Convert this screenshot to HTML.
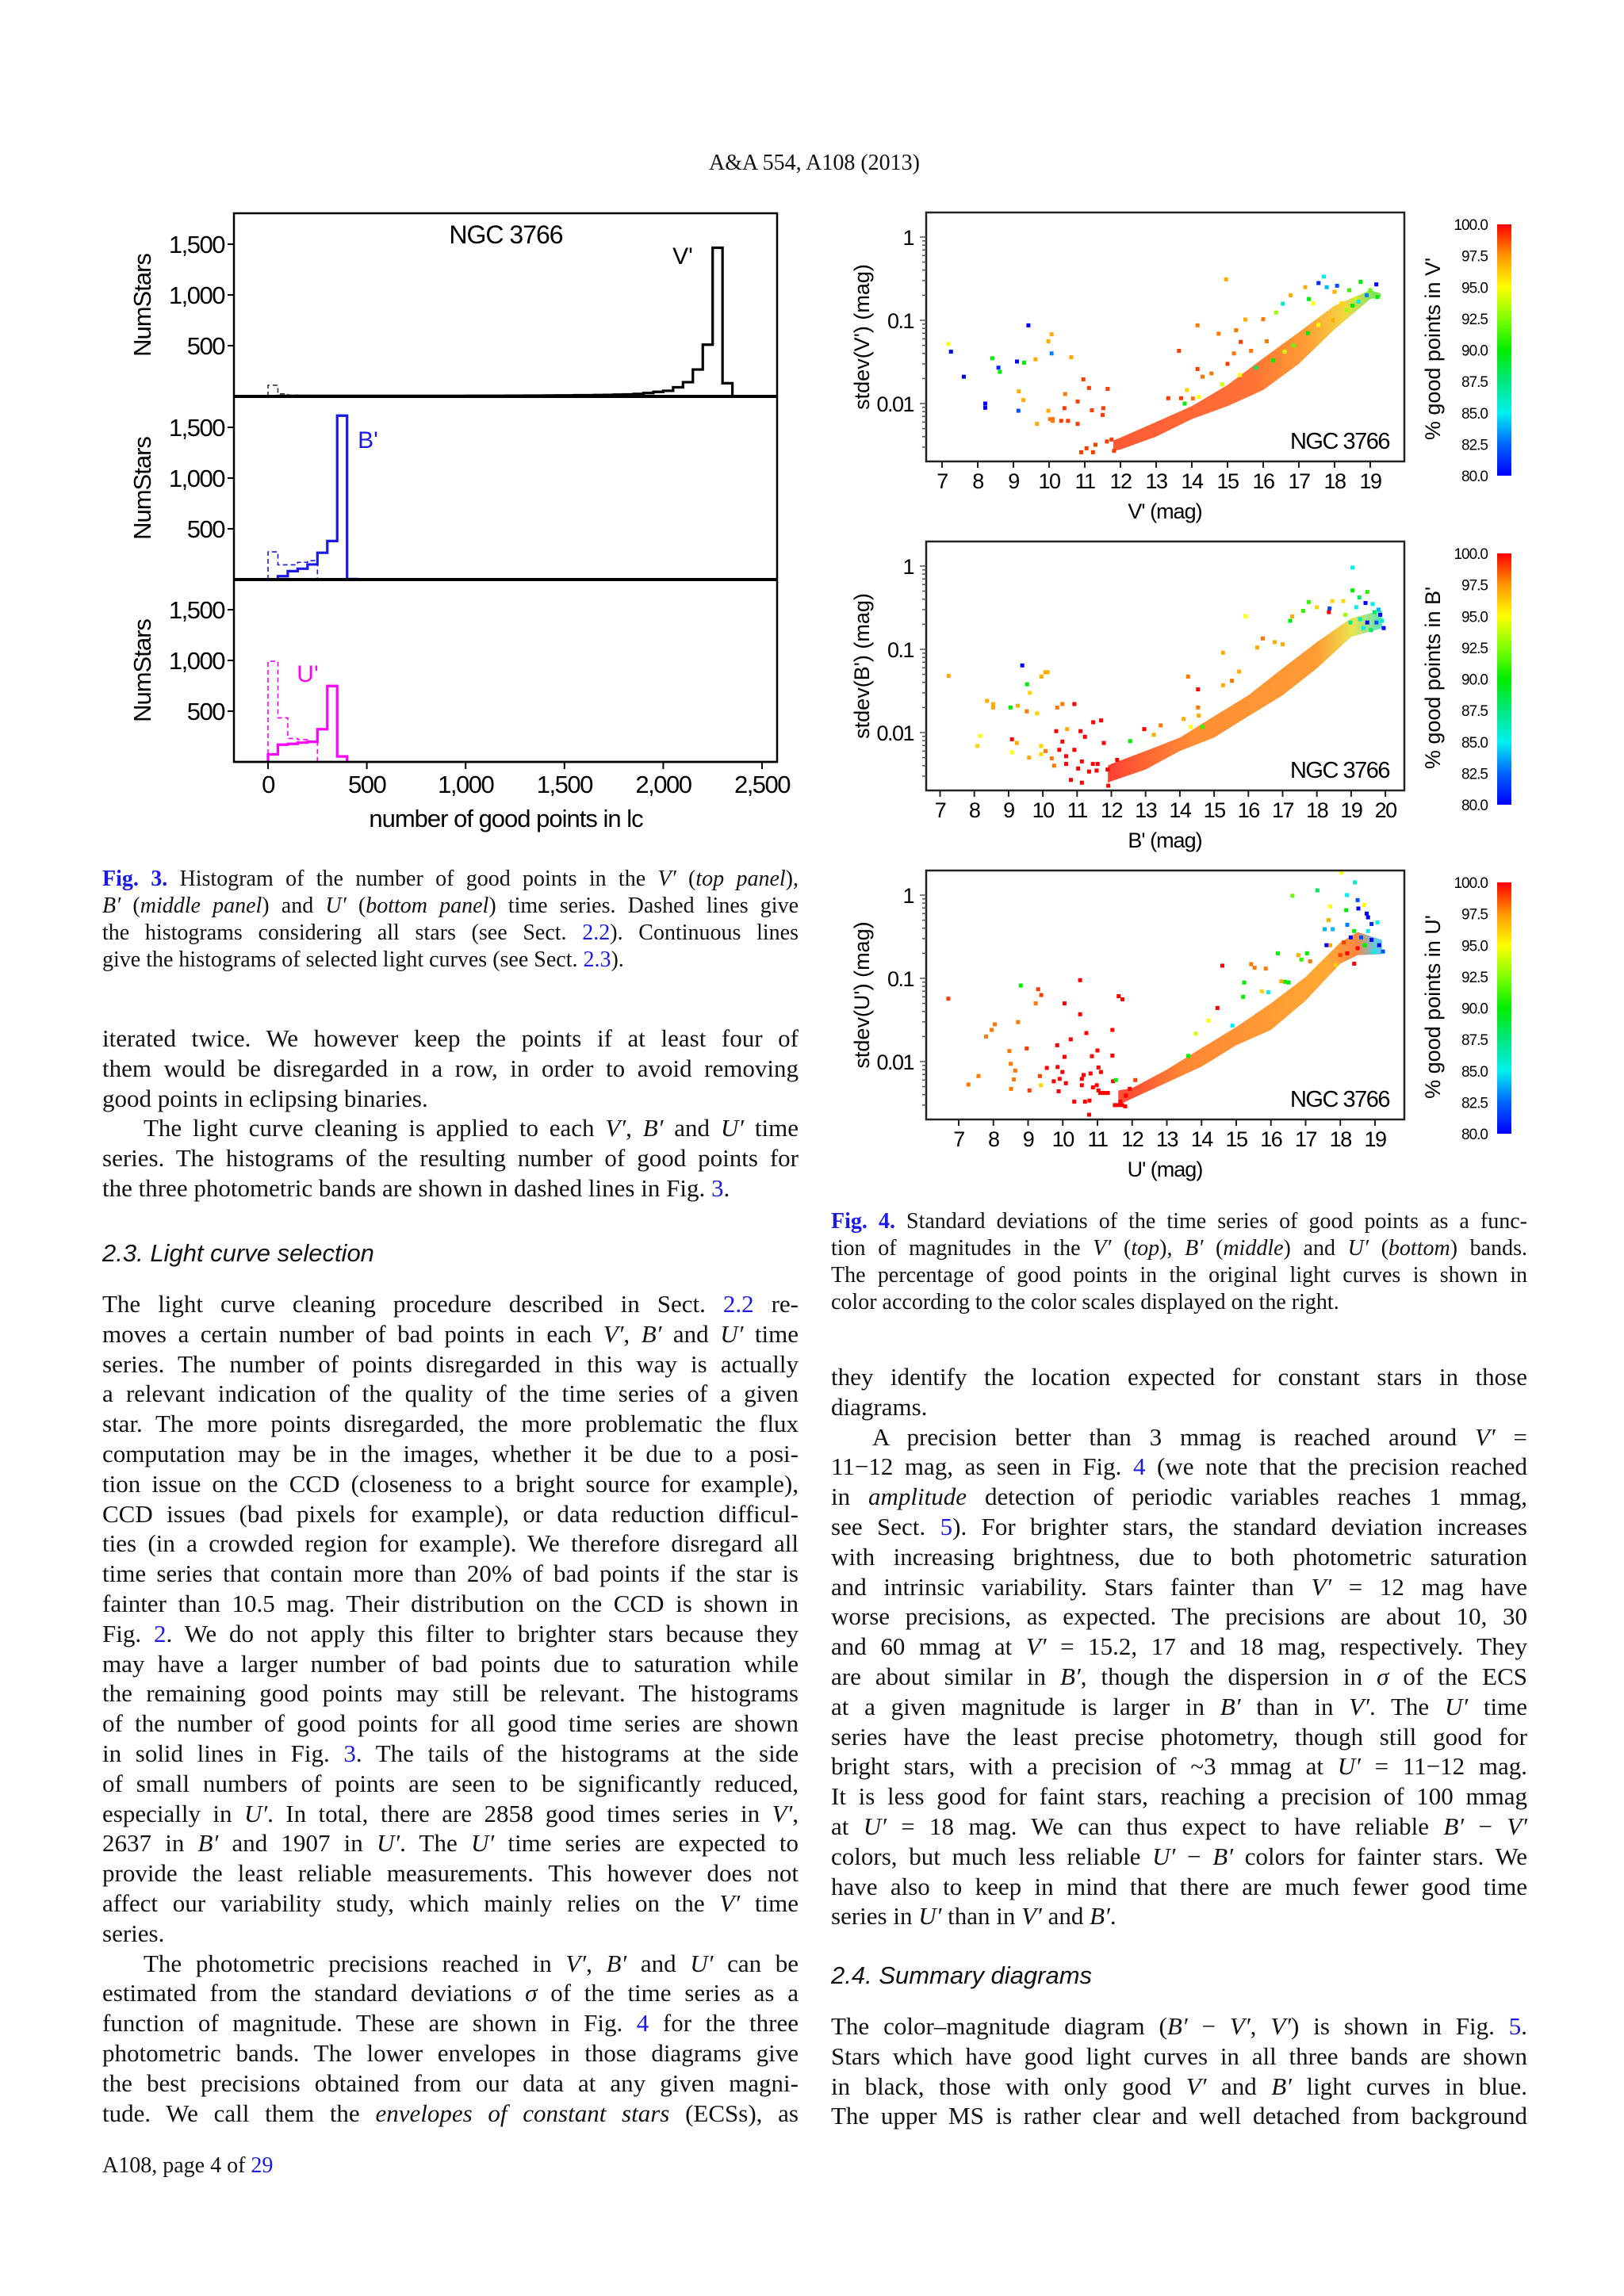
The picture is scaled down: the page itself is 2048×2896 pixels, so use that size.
<!DOCTYPE html>
<html><head><meta charset="utf-8">
<style>
body{margin:0;background:#fff;}
#page{position:relative;width:2048px;height:2896px;background:#fff;overflow:hidden;font-family:"Liberation Serif",serif;color:#111;}
.blk{position:absolute;font-size:31px;text-align:justify;}
.blk div{height:37.8px;line-height:37.8px;white-space:nowrap;text-align-last:justify;text-align:justify;}
.blk div.l{text-align-last:left;}
.blk div.in{padding-left:52px;}
.cap{position:absolute;font-size:28px;}
.cap div{height:34px;line-height:34px;white-space:nowrap;text-align:justify;text-align-last:justify;}
.cap div.l{text-align-last:left;}
.b{color:#1a1ae6;}
.hd{position:absolute;font-family:"Liberation Sans",sans-serif;font-style:italic;font-size:31px;}
svg text{font-family:"Liberation Sans",sans-serif;}
</style></head>
<body><div id="page">

<div style="position:absolute;left:0;width:2054px;top:190px;text-align:center;font-size:28px;">A&amp;A 554, A108 (2013)</div>

<svg id="chart" width="2048" height="2896" style="position:absolute;left:0;top:0">
<defs>
<linearGradient id="gV" gradientUnits="userSpaceOnUse" x1="1393" y1="0" x2="1731" y2="0">
<stop offset="0" stop-color="#ff3a12"/><stop offset="0.55" stop-color="#ff5a12"/><stop offset="0.75" stop-color="#ff8c10"/><stop offset="0.9" stop-color="#f0d020"/><stop offset="1" stop-color="#70e040"/></linearGradient>
<linearGradient id="gB" gradientUnits="userSpaceOnUse" x1="1401" y1="0" x2="1747" y2="0">
<stop offset="0" stop-color="#ff2010"/><stop offset="0.12" stop-color="#ff4a10"/><stop offset="0.3" stop-color="#ff7a10"/><stop offset="0.75" stop-color="#ff8a10"/><stop offset="0.88" stop-color="#e8e030"/><stop offset="1" stop-color="#20e0c0"/></linearGradient>
<linearGradient id="gU" gradientUnits="userSpaceOnUse" x1="1428" y1="0" x2="1735" y2="0">
<stop offset="0" stop-color="#ff3010"/><stop offset="0.2" stop-color="#ff7010"/><stop offset="0.8" stop-color="#ff9a10"/><stop offset="0.92" stop-color="#ff7020"/><stop offset="1" stop-color="#40c0e0"/></linearGradient>
<linearGradient id="cbar" x1="0" y1="1" x2="0" y2="0">
<stop offset="0" stop-color="#0000ff"/><stop offset="0.125" stop-color="#0064ff"/><stop offset="0.25" stop-color="#00f0f0"/><stop offset="0.375" stop-color="#00e880"/><stop offset="0.5" stop-color="#00ee00"/><stop offset="0.625" stop-color="#80ff00"/><stop offset="0.75" stop-color="#ffff00"/><stop offset="0.875" stop-color="#ff9600"/><stop offset="1" stop-color="#ff0000"/></linearGradient>
</defs>
<g id="hist"></g>
<g id="scat"></g>
</svg>

<div class="cap" style="left:129px;top:1092px;width:878px;">
<div><b class="b">Fig. 3.</b> Histogram of the number of good points in the <i>V′</i> (<i>top panel</i>),</div>
<div><i>B′</i> (<i>middle panel</i>) and <i>U′</i> (<i>bottom panel</i>) time series. Dashed lines give</div>
<div>the histograms considering all stars (see Sect. <span class="b">2.2</span>). Continuous lines</div>
<div class="l">give the histograms of selected light curves (see Sect. <span class="b">2.3</span>).</div>
</div>

<div class="cap" style="left:1048px;top:1524px;width:878px;">
<div><b class="b">Fig. 4.</b> Standard deviations of the time series of good points as a func-</div>
<div>tion of magnitudes in the <i>V′</i> (<i>top</i>), <i>B′</i> (<i>middle</i>) and <i>U′</i> (<i>bottom</i>) bands.</div>
<div>The percentage of good points in the original light curves is shown in</div>
<div class="l">color according to the color scales displayed on the right.</div>
</div>

<div class="blk" style="left:129px;top:1291px;width:878px;">
<div>iterated twice. We however keep the points if at least four of</div>
<div>them would be disregarded in a row, in order to avoid removing</div>
<div class="l">good points in eclipsing binaries.</div>
<div class="in">The light curve cleaning is applied to each <i>V′</i>, <i>B′</i> and <i>U′</i> time</div>
<div>series. The histograms of the resulting number of good points for</div>
<div class="l">the three photometric bands are shown in dashed lines in Fig. <span class="b">3</span>.</div>
</div>

<div class="hd" style="left:129px;top:1563px;">2.3. Light curve selection</div>

<div class="blk" style="left:129px;top:1626px;width:878px;">
<div>The light curve cleaning procedure described in Sect. <span class="b">2.2</span> re-</div>
<div>moves a certain number of bad points in each <i>V′</i>, <i>B′</i> and <i>U′</i> time</div>
<div>series. The number of points disregarded in this way is actually</div>
<div>a relevant indication of the quality of the time series of a given</div>
<div>star. The more points disregarded, the more problematic the flux</div>
<div>computation may be in the images, whether it be due to a posi-</div>
<div>tion issue on the CCD (closeness to a bright source for example),</div>
<div>CCD issues (bad pixels for example), or data reduction difficul-</div>
<div>ties (in a crowded region for example). We therefore disregard all</div>
<div>time series that contain more than 20% of bad points if the star is</div>
<div>fainter than 10.5 mag. Their distribution on the CCD is shown in</div>
<div>Fig. <span class="b">2</span>. We do not apply this filter to brighter stars because they</div>
<div>may have a larger number of bad points due to saturation while</div>
<div>the remaining good points may still be relevant. The histograms</div>
<div>of the number of good points for all good time series are shown</div>
<div>in solid lines in Fig. <span class="b">3</span>. The tails of the histograms at the side</div>
<div>of small numbers of points are seen to be significantly reduced,</div>
<div>especially in <i>U′</i>. In total, there are 2858 good times series in <i>V′</i>,</div>
<div>2637 in <i>B′</i> and 1907 in <i>U′</i>. The <i>U′</i> time series are expected to</div>
<div>provide the least reliable measurements. This however does not</div>
<div>affect our variability study, which mainly relies on the <i>V′</i> time</div>
<div class="l">series.</div>
<div class="in">The photometric precisions reached in <i>V′</i>, <i>B′</i> and <i>U′</i> can be</div>
<div>estimated from the standard deviations <i>σ</i> of the time series as a</div>
<div>function of magnitude. These are shown in Fig. <span class="b">4</span> for the three</div>
<div>photometric bands. The lower envelopes in those diagrams give</div>
<div>the best precisions obtained from our data at any given magni-</div>
<div>tude. We call them the <i>envelopes of constant stars</i> (ECSs), as</div>
</div>

<div class="blk" style="left:1048px;top:1718px;width:878px;">
<div>they identify the location expected for constant stars in those</div>
<div class="l">diagrams.</div>
<div class="in">A precision better than 3 mmag is reached around <i>V′</i> =</div>
<div>11−12 mag, as seen in Fig. <span class="b">4</span> (we note that the precision reached</div>
<div>in <i>amplitude</i> detection of periodic variables reaches 1 mmag,</div>
<div>see Sect. <span class="b">5</span>). For brighter stars, the standard deviation increases</div>
<div>with increasing brightness, due to both photometric saturation</div>
<div>and intrinsic variability. Stars fainter than <i>V′</i> = 12 mag have</div>
<div>worse precisions, as expected. The precisions are about 10, 30</div>
<div>and 60 mmag at <i>V′</i> = 15.2, 17 and 18 mag, respectively. They</div>
<div>are about similar in <i>B′</i>, though the dispersion in <i>σ</i> of the ECS</div>
<div>at a given magnitude is larger in <i>B′</i> than in <i>V′</i>. The <i>U′</i> time</div>
<div>series have the least precise photometry, though still good for</div>
<div>bright stars, with a precision of ~3 mmag at <i>U′</i> = 11−12 mag.</div>
<div>It is less good for faint stars, reaching a precision of 100 mmag</div>
<div>at <i>U′</i> = 18 mag. We can thus expect to have reliable <i>B′</i> − <i>V′</i></div>
<div>colors, but much less reliable <i>U′</i> − <i>B′</i> colors for fainter stars. We</div>
<div>have also to keep in mind that there are much fewer good time</div>
<div class="l">series in <i>U′</i> than in <i>V′</i> and <i>B′</i>.</div>
</div>

<div class="hd" style="left:1048px;top:2474px;">2.4. Summary diagrams</div>

<div class="blk" style="left:1048px;top:2537px;width:878px;">
<div>The color–magnitude diagram (<i>B′</i> − <i>V′</i>, <i>V′</i>) is shown in Fig. <span class="b">5</span>.</div>
<div>Stars which have good light curves in all three bands are shown</div>
<div>in black, those with only good <i>V′</i> and <i>B′</i> light curves in blue.</div>
<div>The upper MS is rather clear and well detached from background</div>
</div>

<div style="position:absolute;left:129px;top:2716px;font-size:28px;">A108, page 4 of <span class="b">29</span></div>

<script>
// ---------- Histogram data (bin width 50, starting at 0) ----------
const histBinWidth = 50;
const vSolid = [0,5,5,5,5,5,5,5,5,5,5,5,5,5,5,5,5,5,5,5,6,6,6,6,7,7,8,8,9,10,10,12,12,14,15,18,20,25,33,45,55,90,140,265,510,1465,130];
const vDashed = [110,25,12,10,8,6,7,5,4,3];
const bSolid = [0,33,83,107,149,264,380,1615,5];
const bDashed = [273,145,145,170,186];
const uSolid = [74,170,178,190,198,322,748,54];
const uDashed = [992,434,231,219,198];
const histXTicks = [0,500,1000,1500,2000,2500];
const histXTickLabels = ["0","500","1,000","1,500","2,000","2,500"];
const histYTicks = [500,1000,1500];
const histYTickLabels = ["500","1,000","1,500"];

// ---------- Scatter data ----------
const vMag = [7.18,7.25,7.61,8.21,8.21,8.41,8.58,8.62,9.1,9.3,9.42,9.14,9.15,9.28,9.62,9.66,9.98,10.07,10.07,9.98,10.03,10.1,10.62,10.96,11.12,11.64,10.45,10.8,10.43,11.2,11.52,11.5,10.1,10.34,10.53,10.8,10.9,11.23,11.05,11.3,11.62,11.75,11.82,13.64,14.16,14.96,14.75,15.24,15.5,16.0,15.37,15.18,14.16,14.3,13.86,14.03,13.34,13.7,14.55,15.0,15.66,16.1,16.36,16.55,16.77,17.18,17.55,17.7,17.78,18.07,18.0,17.28,17.4,18.41,18.73,19.17,18.9,19.0,19.2,18.6,18.2,18.5,18.67,18.35,17.95,17.55,17.25,16.85,16.6,16.28,15.8,15.35,14.85,14.2,13.8];
const vSig = [0.052,0.042,0.021,0.01,0.0089,0.035,0.027,0.024,0.032,0.031,0.087,0.0082,0.014,0.011,0.034,0.0057,0.056,0.068,0.04,0.0082,0.0065,0.0062,0.036,0.0195,0.0154,0.015,0.013,0.0106,0.0088,0.0083,0.0088,0.0073,0.0065,0.0062,0.0062,0.0057,0.0026,0.0026,0.0029,0.0032,0.0035,0.0037,0.0027,0.043,0.087,0.31,0.069,0.076,0.102,0.103,0.055,0.04,0.026,0.021,0.0145,0.0115,0.0116,0.0116,0.023,0.03,0.043,0.056,0.124,0.158,0.2,0.25,0.28,0.335,0.25,0.26,0.22,0.18,0.16,0.23,0.29,0.27,0.2,0.23,0.19,0.18,0.16,0.15,0.168,0.133,0.1,0.088,0.07,0.05,0.042,0.033,0.027,0.022,0.017,0.012,0.01];
const vPct = [95,80,80,80,80,90,81,90,80,90,80,82,97,97,97,97,97,97,83,97,98,98,97,99,99,99,98,99,99,99,99,99,98,99,99,99,99,99,99,99,99,99,99,99,98,97,98,98,97,98,99,98,99,98,96,98,99,99,98,99,98,98,93,86,97,97,81,85,84,82,97,90,95,91,90,80,83,92,90,94,96,90,85,93,97,95,90,92,94,90,88,95,94,95,90];
const vEnvMag = [11.8,12,13,14,15,16,17,18,19,19.3];
const vEnvLow = [0.0027,0.0028,0.004,0.0065,0.0093,0.0145,0.03,0.078,0.18,0.19];
const vEnvHigh = [0.0036,0.0039,0.006,0.0093,0.0167,0.035,0.072,0.15,0.23,0.21];

const bMag = [7.25,8.09,8.17,8.37,8.55,8.55,9.06,9.27,9.1,9.1,9.24,9.4,9.54,9.62,9.53,9.83,9.96,10.07,10.14,9.95,9.95,9.6,10.08,10.26,10.33,10.42,10.57,10.92,10.71,10.39,10.57,10.48,10.68,10.68,10.82,11.1,11.23,11.47,11.7,11.78,10.92,11.14,11.46,11.14,11.57,11.89,11.91,11.35,11.03,11.6,12.17,12.55,12.96,13.44,13.24,14.24,14.53,14.53,14.55,14.11,14.32,14.66,15.26,15.92,15.26,15.73,15.52,16.42,16.26,16.77,17.0,17.22,17.28,17.6,17.76,18.0,18.37,18.35,18.45,18.77,19.04,19.04,19.24,19.47,19.42,19.63,19.15,19.8,19.85,19.74,19.95,19.47,19.26,18.83,18.98,19.58,19.9,19.36,19.68];
const bSig = [0.048,0.0069,0.0091,0.024,0.022,0.02,0.02,0.021,0.0083,0.0058,0.0075,0.064,0.038,0.03,0.018,0.017,0.047,0.053,0.053,0.0069,0.0055,0.005,0.006,0.0049,0.004,0.02,0.022,0.022,0.011,0.0104,0.0078,0.0062,0.0052,0.0042,0.0027,0.0104,0.0089,0.0133,0.014,0.0075,0.0062,0.0045,0.0042,0.0025,0.0035,0.0036,0.0023,0.0034,0.0037,0.0042,0.0047,0.0079,0.011,0.0122,0.0094,0.047,0.033,0.02,0.016,0.0146,0.0117,0.0117,0.091,0.25,0.037,0.054,0.042,0.135,0.105,0.122,0.115,0.22,0.248,0.29,0.37,0.32,0.31,0.28,0.38,0.38,0.96,0.51,0.42,0.49,0.36,0.35,0.32,0.3,0.26,0.21,0.18,0.21,0.23,0.26,0.21,0.17,0.22,0.18,0.28];
const bPct = [97,96,95,97,97,97,90,97,100,95,97,80,90,96,98,96,97,97,97,96,96,97,98,98,98,98,98,100,97,100,100,100,100,100,100,100,100,100,100,100,100,100,100,100,100,100,100,100,100,100,100,90,100,98,97,98,100,98,97,97,95,91,97,95,97,97,98,98,97,97,97,90,97,91,91,96,82,100,96,96,85,90,88,91,80,85,85,84,80,82,80,80,86,93,87,88,86,85,88];
const bEnvMag = [11.9,12,13,14,15,16,17,18,19,19.9];
const bEnvLow = [0.0025,0.0026,0.0036,0.006,0.0087,0.0157,0.028,0.059,0.141,0.18];
const bEnvHigh = [0.004,0.0042,0.006,0.0087,0.0157,0.028,0.059,0.122,0.236,0.295];

const uMag = [6.7,7.28,7.57,7.79,7.95,8.04,8.46,8.5,8.59,8.51,8.63,8.71,8.79,8.96,9.04,9.22,9.29,9.38,9.34,9.37,9.54,9.74,9.85,9.84,9.88,9.91,9.99,10.05,10.09,10.05,10.23,10.33,10.5,10.5,10.55,10.6,10.55,10.68,10.64,10.76,10.77,10.84,10.8,11.0,11.03,11.1,10.87,11.03,11.08,11.19,11.3,10.98,11.43,11.43,11.45,11.53,11.61,11.72,11.5,11.6,11.71,11.8,11.66,11.82,11.93,12.09,14.46,14.6,14.2,13.83,13.62,14.89,15.23,15.2,15.43,15.53,15.85,15.93,15.74,16.2,16.41,16.51,16.3,16.62,16.79,17.04,17.13,16.88,17.34,17.66,17.71,17.71,17.87,18.03,18.17,18.19,18.2,18.42,18.5,18.52,18.69,18.76,18.8,19.07,18.9,17.55,17.78,17.6,18.3,18.6,18.8,18.9,19.12,19.23,18.96,18.7,18.4,18.5,18.2,18.4,18.0,18.1];
const uSig = [0.057,0.0053,0.0067,0.02,0.024,0.028,0.0134,0.0094,0.0061,0.0047,0.0078,0.0298,0.082,0.0144,0.0045,0.05,0.074,0.063,0.0067,0.0052,0.0084,0.0058,0.0086,0.0157,0.0044,0.0062,0.0075,0.0114,0.0055,0.05,0.0185,0.0033,0.095,0.037,0.0062,0.0069,0.0052,0.022,0.0033,0.0023,0.0034,0.0116,0.0072,0.0136,0.0085,0.0075,0.0049,0.0045,0.0042,0.0042,0.0042,0.0052,0.024,0.0118,0.0058,0.006,0.061,0.056,0.003,0.003,0.003,0.0029,0.0033,0.0039,0.0047,0.006,0.044,0.142,0.031,0.0216,0.0117,0.027,0.089,0.06,0.148,0.134,0.131,0.068,0.07,0.2,0.091,0.089,0.092,0.98,0.19,0.2,0.16,0.168,1.14,0.5,0.73,0.25,0.144,1.87,0.66,1.0,0.44,1.42,0.87,0.69,0.76,0.6,0.54,0.47,0.45,0.39,0.39,0.25,0.31,0.31,0.37,0.29,0.25,0.21,0.21,0.25,0.37,0.23,0.2,0.15,0.19,0.27];
const uPct = [99,98,98,98,98,98,98,98,98,98,98,98,90,99,99,98,99,99,99,96,100,100,100,100,100,100,100,100,100,100,100,100,100,100,100,100,100,100,100,100,100,100,100,100,100,100,100,100,100,100,100,100,100,100,100,90,100,100,100,100,100,100,100,100,100,99,100,100,95,94,90,85,90,90,98,98,98,85,96,90,90,90,97,92,97,90,98,91,88,97,95,97,96,95,90,85,83,86,82,80,95,80,80,85,81,84,84,80,80,82,85,80,80,82,85,90,90,100,100,100,99,99];
const uEnvMag = [11.6,12,13,14,15,16,17,18,18.5,19.2];
const uEnvLow = [0.003,0.0036,0.0056,0.0087,0.0157,0.024,0.054,0.15,0.19,0.195];
const uEnvHigh = [0.0045,0.0048,0.008,0.0145,0.026,0.05,0.104,0.27,0.36,0.29];

const sigTicks = [1,0.1,0.01];
const sigTickLabels = ["1","0.1","0.01"];
const cbarTicks = [100,97.5,95,92.5,90,87.5,85,82.5,80];
const cbarTickLabels = ["100.0","97.5","95.0","92.5","90.0","87.5","85.0","82.5","80.0"];

const NS = "http://www.w3.org/2000/svg";
function mk(parent, tag, attrs, text){
  const e = document.createElementNS(NS, tag);
  for (const k in attrs) e.setAttribute(k, attrs[k]);
  if (text !== undefined) e.textContent = text;
  parent.appendChild(e);
  return e;
}

// ---------- Histogram ----------
const H = document.getElementById('hist');
const hx = v => 338 + v * 0.2492;
const hBases = [500, 731, 961];
const hy = (k, v) => hBases[k] - v * 0.128;
function stepPath(k, arr){
  let d = "M" + hx(0) + "," + hBases[k];
  arr.forEach((v, i) => {
    d += " L" + hx(i*histBinWidth) + "," + hy(k, v) + " L" + hx((i+1)*histBinWidth) + "," + hy(k, v);
  });
  d += " L" + hx(arr.length*histBinWidth) + "," + hBases[k];
  return d;
}
const series = [
  [0, vDashed, '#333', true, 'hist-v-all'], [0, vSolid, '#000', false, 'hist-v-selected'],
  [1, bDashed, '#1a1ae6', true, 'hist-b-all'], [1, bSolid, '#1a1ae6', false, 'hist-b-selected'],
  [2, uDashed, '#ff00ff', true, 'hist-u-all'], [2, uSolid, '#ff00ff', false, 'hist-u-selected']
];
series.forEach(s => {
  const p = mk(H, 'path', {d: stepPath(s[0], s[1]), fill: 'none', stroke: s[2], 'stroke-width': s[3] ? 1.6 : 3.2, 'stroke-dasharray': s[3] ? '6,4' : 'none'});
  
  
});
const hf = mk(H, 'rect', {x: 295, y: 269, width: 685, height: 692, fill: 'none', stroke: '#000', 'stroke-width': 2.5});


hBases.forEach((b, k) => {
  const ln = mk(H, 'line', {x1: 295, x2: 980, y1: b, y2: b, stroke: '#000', 'stroke-width': k < 2 ? 4 : 2.5});
  
  
  histYTicks.forEach((t, i) => {
    mk(H, 'line', {x1: 287, x2: 295, y1: hy(k, t), y2: hy(k, t), stroke: '#000', 'stroke-width': 2});
    const tl = mk(H, 'text', {x: 283, y: hy(k, t) + 11, 'text-anchor': 'end', 'font-size': 31, 'letter-spacing': -1.5}, histYTickLabels[i]);
    
    
  });
  const yt = mk(H, 'text', {x: 0, y: 0, 'text-anchor': 'middle', 'font-size': 31, 'letter-spacing': -1, transform: 'translate(190,' + (b - 115) + ') rotate(-90)'}, 'NumStars');
  
  
});
histXTicks.forEach((t, i) => {
  mk(H, 'line', {x1: hx(t), x2: hx(t), y1: 961, y2: 970, stroke: '#000', 'stroke-width': 2});
  const tl = mk(H, 'text', {x: hx(t), y: 1000, 'text-anchor': 'middle', 'font-size': 31, 'letter-spacing': -1.5}, histXTickLabels[i]);
  
  
});
const hxt = mk(H, 'text', {x: 638, y: 1043, 'text-anchor': 'middle', 'font-size': 31, 'letter-spacing': -1}, 'number of good points in lc');


const ht = mk(H, 'text', {x: 638, y: 307, 'text-anchor': 'middle', 'font-size': 32, 'letter-spacing': -1}, 'NGC 3766');


[['V\'', 861, 333, '#000', 'label-v'], ['B\'', 464, 565, '#1a1ae6', 'label-b'], ['U\'', 388, 860, '#ff00ff', 'label-u']].forEach(l => {
  const t = mk(H, 'text', {x: l[1], y: l[2], 'text-anchor': 'middle', 'font-size': 30, fill: l[3]}, l[0]);
  
  
});

// ---------- Scatter panels ----------
const S = document.getElementById('scat');
const stops = [[0,[0,0,255]],[0.125,[0,100,255]],[0.25,[0,240,240]],[0.375,[0,232,128]],[0.5,[0,238,0]],[0.625,[128,255,0]],[0.75,[255,255,0]],[0.875,[255,150,0]],[1,[255,0,0]]];
function jet(p){
  let t = Math.max(0, Math.min(1, (p - 80) / 20));
  for (let i = 1; i < stops.length; i++){
    if (t <= stops[i][0]){
      const a = stops[i-1], b = stops[i], f = (t - a[0]) / (b[0] - a[0]);
      const c = a[1].map((v, j) => Math.round(v + (b[1][j] - v) * f));
      return 'rgb(' + c.join(',') + ')';
    }
  }
  return 'rgb(255,0,0)';
}
const panels = [
  {dy: 0, x7: 1188, ppm: 45, mags: vMag, sig: vSig, pct: vPct, em: vEnvMag, el: vEnvLow, eh: vEnvHigh, grad: 'gV', xmax: 19, band: 'V'},
  {dy: 415, x7: 1185.5, ppm: 43.2, mags: bMag, sig: bSig, pct: bPct, em: bEnvMag, el: bEnvLow, eh: bEnvHigh, grad: 'gB', xmax: 20, band: 'B'},
  {dy: 830, x7: 1209, ppm: 43.75, mags: uMag, sig: uSig, pct: uPct, em: uEnvMag, el: uEnvLow, eh: uEnvHigh, grad: 'gU', xmax: 19, band: 'U'}
];
panels.forEach(P => {
  const g = mk(S, 'g', {});
  
  
  const sx = m => P.x7 + (m - 7) * P.ppm;
  const sy = s => 299 + P.dy - 105 * Math.log10(s);
  let d = '';
  P.em.forEach((m, i) => { d += (i ? ' L' : 'M') + sx(m) + ',' + sy(P.el[i]); });
  for (let i = P.em.length - 1; i >= 0; i--) d += ' L' + sx(P.em[i]) + ',' + sy(P.eh[i]);
  const band = mk(g, 'path', {d: d + ' Z', fill: 'url(#' + P.grad + ')', opacity: 0.85});
  
  
  P.mags.forEach((m, i) => {
    const r = mk(g, 'rect', {x: sx(m) - 2.5, y: sy(P.sig[i]) - 2.5, width: 5, height: 5, fill: jet(P.pct[i])});
    
    
  });
  const fr = mk(g, 'rect', {x: 1168, y: 268 + P.dy, width: 603, height: 314, fill: 'none', stroke: '#222', 'stroke-width': 2.5});
  
  
  for (let m = 7; m <= P.xmax; m++){
    mk(g, 'line', {x1: sx(m), x2: sx(m), y1: 582 + P.dy, y2: 590 + P.dy, stroke: '#222', 'stroke-width': 2});
    const tl = mk(g, 'text', {x: sx(m), y: 616 + P.dy, 'text-anchor': 'middle', 'font-size': 27, 'letter-spacing': -1.5}, String(m));
    
    
  }
  for (let e = -3; e <= 0; e++){
    for (let k = 1; k <= 9; k++){
      const v = k * Math.pow(10, e);
      const y = sy(v);
      if (y > 582 + P.dy || y < 268 + P.dy) continue;
      mk(g, 'line', {x1: k === 1 ? 1160 : 1163, x2: 1168, y1: y, y2: y, stroke: '#555', 'stroke-width': 1.5});
    }
  }
  sigTicks.forEach((t, i) => {
    const tl = mk(g, 'text', {x: 1152, y: sy(t) + 10, 'text-anchor': 'end', 'font-size': 27, 'letter-spacing': -1.5}, sigTickLabels[i]);
    
    
  });
  const yt = mk(g, 'text', {x: 0, y: 0, 'text-anchor': 'middle', 'font-size': 27, transform: 'translate(1096,' + (425 + P.dy) + ') rotate(-90)'}, 'stdev(' + P.band + '\') (mag)');
  
  
  const xt = mk(g, 'text', {x: 1469, y: 654 + P.dy, 'text-anchor': 'middle', 'font-size': 27, 'letter-spacing': -1}, P.band + '\' (mag)');
  
  
  const nl = mk(g, 'text', {x: 1752, y: 566 + P.dy, 'text-anchor': 'end', 'font-size': 29, 'letter-spacing': -1.5}, 'NGC 3766');
  
  
  const cb = mk(g, 'rect', {x: 1888, y: 283 + P.dy, width: 18, height: 317, fill: 'url(#cbar)'});
  
  
  cbarTicks.forEach((t, i) => {
    const y = 283 + P.dy + (100 - t) / 20 * 317;
    const tl = mk(g, 'text', {x: 1876, y: y + 7, 'text-anchor': 'end', 'font-size': 19, 'letter-spacing': -1}, cbarTickLabels[i]);
    
    
  });
  const ct = mk(g, 'text', {x: 0, y: 0, 'text-anchor': 'middle', 'font-size': 27, transform: 'translate(1816,' + (440 + P.dy) + ') rotate(-90)'}, '% good points in ' + P.band + '\'');
  
  
});
</script>
</div></body></html>
